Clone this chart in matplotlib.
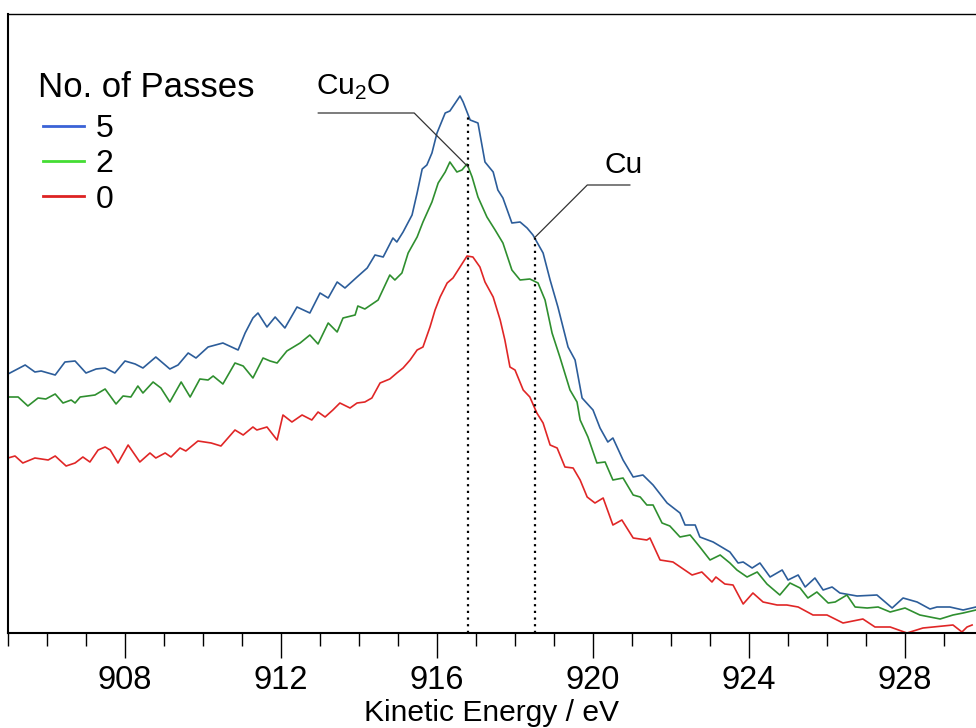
import matplotlib
matplotlib.use("Agg")
import matplotlib.pyplot as plt
from matplotlib.lines import Line2D
import numpy as np

plt.rcParams["font.family"] = ["Liberation Sans", "DejaVu Sans"]
plt.rcParams["mathtext.fontset"] = "custom"
plt.rcParams["mathtext.rm"] = "Liberation Sans"

# kinetic energy (eV) / intensity (arb. units)
e_5 = [905.00, 905.44, 905.69, 905.85, 906.21, 906.46, 906.72, 907.00, 907.26, 907.49,
       907.74, 908.00, 908.26, 908.46, 908.79, 909.15, 909.36, 909.62, 909.82, 910.13,
       910.51, 910.90, 911.08, 911.28, 911.41, 911.64, 911.85, 912.10, 912.41, 912.74,
       913.00, 913.21, 913.44, 913.64, 913.95, 914.21, 914.41, 914.62, 914.87, 914.97,
       915.13, 915.36, 915.49, 915.62, 915.74, 915.87, 916.00, 916.21, 916.33, 916.59,
       916.67, 916.85, 917.05, 917.23, 917.44, 917.56, 917.69, 917.92, 918.13, 918.31,
       918.46, 918.72, 918.90, 919.10, 919.36, 919.54, 919.72, 920.00, 920.18, 920.38,
       920.51, 920.77, 921.03, 921.28, 921.54, 921.90, 922.23, 922.36, 922.62, 922.74,
       923.08, 923.51, 923.72, 923.85, 924.08, 924.28, 924.54, 924.85, 925.00, 925.26,
       925.44, 925.69, 925.90, 926.13, 926.33, 926.77, 927.28, 927.67, 927.95, 928.31,
       928.64, 928.82, 929.15, 929.49, 929.82]
i_5 = [259, 268, 261, 262, 258, 271, 272, 260, 264, 265,
       260, 272, 269, 265, 276, 264, 268, 280, 275, 286,
       290, 283, 300, 315, 320, 306, 316, 305, 326, 320,
       340, 335, 351, 345, 356, 365, 378, 376, 395, 391,
       401, 418, 440, 464, 468, 480, 500, 520, 522, 537,
       531, 513, 510, 471, 461, 443, 435, 410, 411, 405,
       398, 380, 353, 326, 286, 273, 235, 223, 205, 191,
       195, 173, 156, 158, 148, 130, 120, 108, 108, 96,
       91, 81, 70, 71, 65, 70, 56, 63, 53, 58,
       46, 55, 43, 46, 40, 37, 38, 25, 35, 31,
       24, 26, 26, 23, 26]

e_2 = [905.00, 905.26, 905.51, 905.77, 905.97, 906.21, 906.41, 906.62, 906.72, 906.85,
       907.23, 907.49, 907.77, 907.95, 908.15, 908.33, 908.46, 908.72, 908.92, 909.15,
       909.44, 909.67, 909.92, 910.13, 910.26, 910.51, 910.82, 911.03, 911.28, 911.54,
       911.72, 911.90, 912.15, 912.49, 912.74, 912.95, 913.21, 913.44, 913.59, 913.90,
       913.97, 914.15, 914.49, 914.79, 914.92, 915.10, 915.26, 915.49, 915.64, 915.87,
       916.03, 916.21, 916.33, 916.51, 916.64, 916.77, 916.90, 917.05, 917.28, 917.49,
       917.69, 917.92, 918.13, 918.38, 918.59, 918.77, 918.95, 919.15, 919.41, 919.59,
       919.67, 919.87, 920.10, 920.31, 920.51, 920.77, 921.03, 921.21, 921.38, 921.54,
       921.77, 921.97, 922.23, 922.49, 922.74, 923.00, 923.26, 923.51, 923.69, 923.95,
       924.21, 924.46, 924.79, 925.05, 925.31, 925.51, 925.74, 926.03, 926.21, 926.51,
       926.72, 927.03, 927.31, 927.62, 928.00, 928.38, 928.90, 929.23, 929.49, 929.82]
i_2 = [236, 236, 227, 235, 234, 239, 230, 233, 230, 236,
       238, 244, 229, 237, 236, 247, 240, 251, 245, 231,
       251, 236, 254, 253, 257, 249, 270, 267, 255, 275,
       272, 270, 282, 290, 298, 289, 310, 301, 315, 318,
       327, 324, 333, 358, 353, 360, 380, 396, 411, 431,
       450, 461, 471, 461, 463, 469, 456, 436, 416, 403,
       390, 363, 353, 354, 350, 333, 300, 276, 243, 231,
       213, 196, 170, 171, 153, 155, 138, 136, 128, 128,
       110, 107, 96, 98, 86, 73, 78, 70, 63, 56,
       61, 49, 38, 50, 45, 35, 41, 30, 31, 38,
       26, 25, 26, 21, 25, 18, 14, 18, 20, 23]

e_0 = [905.00, 905.18, 905.38, 905.69, 906.03, 906.21, 906.49, 906.72, 906.92, 907.10,
       907.31, 907.49, 907.62, 907.82, 908.08, 908.38, 908.64, 908.79, 909.03, 909.18,
       909.41, 909.56, 909.87, 910.21, 910.46, 910.82, 911.03, 911.28, 911.38, 911.64,
       911.90, 912.05, 912.28, 912.54, 912.79, 912.95, 913.13, 913.33, 913.51, 913.77,
       913.95, 914.15, 914.33, 914.54, 914.79, 914.97, 915.13, 915.31, 915.49, 915.64,
       915.82, 915.95, 916.08, 916.26, 916.41, 916.59, 916.77, 916.92, 917.10, 917.23,
       917.44, 917.62, 917.74, 917.87, 918.00, 918.21, 918.38, 918.56, 918.72, 918.90,
       919.08, 919.28, 919.49, 919.67, 919.85, 920.05, 920.26, 920.51, 920.74, 921.03,
       921.38, 921.46, 921.72, 922.05, 922.54, 922.79, 923.05, 923.15, 923.38, 923.59,
       923.85, 924.10, 924.36, 924.72, 924.97, 925.26, 925.64, 926.00, 926.41, 926.92,
       927.23, 927.62, 928.05, 928.46, 928.72, 929.23, 929.46, 929.59, 929.72]
i_0 = [175, 177, 170, 175, 173, 177, 167, 170, 176, 171,
       183, 186, 183, 170, 188, 171, 180, 175, 180, 176,
       185, 182, 192, 190, 187, 203, 198, 206, 203, 206,
       193, 218, 211, 218, 213, 221, 216, 223, 230, 225,
       230, 231, 235, 250, 254, 260, 265, 273, 283, 286,
       306, 323, 336, 350, 355, 366, 377, 376, 366, 351,
       336, 313, 293, 266, 263, 243, 236, 220, 210, 188,
       185, 166, 165, 153, 136, 130, 135, 108, 113, 95,
       93, 95, 73, 71, 58, 61, 51, 56, 49, 48,
       29, 40, 31, 28, 28, 26, 18, 18, 10, 14,
       6, 6, 0, 5, 6, 8, 1, 6, 8]

passes = ["5", "2", "0"]
line_colors = ["#2c5d9a", "#2f8f2f", "#e02626"]
key_colors = ["#3a62d6", "#44dd33", "#dd2222"]

peak_names = ["Cu$_2$O", "Cu"]
peak_energies = [916.8, 918.5]

fig = plt.figure(figsize=(9.76, 7.28), dpi=100)
ax = fig.add_axes([8 / 976, 1 - 633 / 728, 1 - 8 / 976, (633 - 14) / 728])

for e, i, c in zip([e_5, e_2, e_0], [i_5, i_2, i_0], line_colors):
    ax.plot(e, i, color=c, lw=1.2)

# dotted markers up to the 5-pass curve
tops = [np.interp(p, e_5, i_5) for p in peak_energies]
ax.vlines(peak_energies, 0, tops, colors="black", linestyles=(0, (1, 2)), lw=1.6)

# leaders
cu2o_end = np.interp(peak_energies[0], e_2, i_2)
ax.annotate("", xy=(peak_energies[0], cu2o_end), xytext=(912.95, 520),
            arrowprops=dict(arrowstyle="-", color="#333333", lw=0.9,
                            shrinkA=0, shrinkB=0,
                            connectionstyle="angle,angleA=0,angleB=135,rad=0"))
ax.text(912.9, 538, peak_names[0], fontsize=21.5, ha="left", va="baseline")
ax.annotate("", xy=(peak_energies[1], tops[1]), xytext=(920.95, 448),
            arrowprops=dict(arrowstyle="-", color="#333333", lw=0.9,
                            shrinkA=0, shrinkB=0,
                            connectionstyle="angle,angleA=0,angleB=45,rad=0"))
ax.text(920.3, 460, peak_names[1], fontsize=21.5, ha="left", va="baseline")

ax.set_xlim(905.0, 929.82)
ax.set_ylim(0, 619)
ax.set_xticks(np.arange(908, 930, 4))
ax.set_xticks(np.arange(905, 930, 1), minor=True)
ax.set_yticks([])
ax.tick_params(axis="x", which="major", direction="out", length=18, width=1.0,
               labelsize=23.5, pad=5)
ax.tick_params(axis="x", which="minor", direction="out", length=9.5, width=1.0)
ax.spines["right"].set_visible(False)
ax.spines["left"].set_linewidth(1.5)
ax.spines["bottom"].set_linewidth(1.5)
ax.spines["top"].set_linewidth(1.0)
ax.set_xlabel("Kinetic Energy / eV", fontsize=21.6, labelpad=2)

ax.text(0.031, 0.908, "No. of Passes", transform=ax.transAxes, fontsize=25,
        ha="left", va="top")
handles = [Line2D([], [], color=c, lw=2) for c in key_colors]
ax.legend(handles, passes, loc="upper left", bbox_to_anchor=(0.036, 0.838),
          frameon=False, fontsize=23, borderpad=0, borderaxespad=0,
          handlelength=1.3, handletextpad=0.35, labelspacing=0.16)

fig.savefig("out.png", dpi=100)
